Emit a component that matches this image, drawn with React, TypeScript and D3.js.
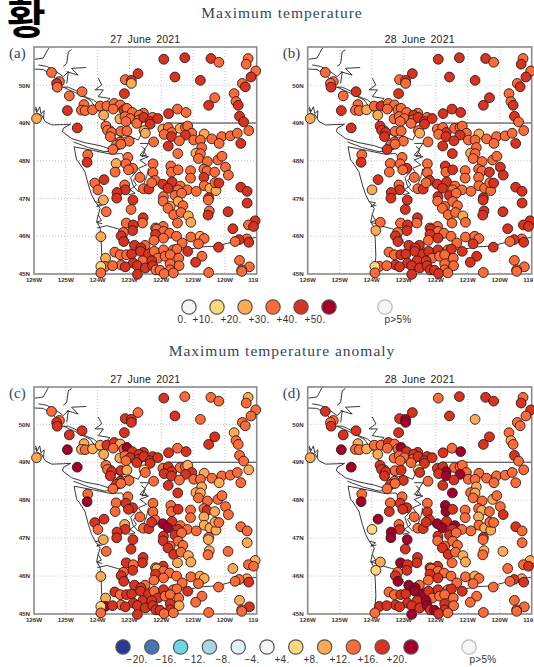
import React from "react";
import * as d3 from "d3";

// Station positions as [degrees west, degrees north]; grouped by tens to line up with the class lists
const stations: [number, number][] = [
  [121.92,50.69],[121.26,50.73],[120.44,50.71],[120.19,50.61],[119.27,50.71],[119.33,50.56],[119.03,50.38],[119.18,50.22],[119.45,50.05],[119.36,49.96],
  [122.73,50.31],[121.57,50.22],[120.77,50.13],[123.13,50.15],[122.94,50.13],[122.94,50.05],[125.45,50.34],[125.20,50.10],[125.29,50.05],[125.27,49.95],
  [124.49,49.83],[123.16,49.78],[124.89,49.72],[119.71,49.78],[120.32,49.67],[119.65,49.57],[119.58,49.47],[120.51,49.47],[124.43,49.49],[124.51,49.34],
  [124.95,49.33],[124.39,49.33],[124.16,49.35],[123.92,49.45],[123.71,49.45],[123.48,49.52],[123.29,49.48],[123.51,49.37],[123.18,49.35],[123.08,49.39],
  [122.91,49.28],[122.56,49.26],[121.49,49.37],[121.22,49.28],[121.77,49.25],[123.81,49.21],[123.30,49.11],[123.14,49.17],[122.98,49.12],[123.11,49.04],
  [122.69,49.21],[122.71,49.08],[122.77,48.99],[122.55,49.15],[122.27,49.15],[122.35,49.04],[122.11,49.12],[122.35,48.97],[119.54,49.18],[119.41,49.03],
  [125.92,49.12],[124.64,48.87],[123.74,48.92],[123.69,48.81],[123.56,48.75],[123.27,48.78],[123.08,48.79],[122.54,48.80],[122.50,48.73],[121.95,48.84],
  [121.78,48.88],[121.67,48.75],[121.41,48.86],[121.24,48.88],[121.17,48.92],[121.04,48.73],[121.91,48.70],[121.68,48.64],[121.24,48.68],[121.43,48.53],
  [120.98,48.55],[120.65,48.71],[120.77,48.55],[120.41,48.58],[120.10,48.64],[119.83,48.66],[119.61,48.73],[119.25,48.80],[119.50,48.46],[123.60,48.64],
  [123.29,48.50],[123.01,48.52],[122.24,48.50],[123.41,48.42],[123.27,48.44],[123.52,48.30],[121.78,48.39],[120.73,48.35],[120.18,48.46],[121.48,48.19],
  [120.91,48.20],[120.77,48.19],[120.83,48.06],[120.55,47.98],[120.22,48.02],[120.09,48.12],[124.31,48.16],[124.33,47.96],[123.05,48.09],[123.42,47.93],
  [123.11,47.92],[122.26,47.92],[122.90,47.80],[123.45,47.70],[123.03,47.76],[122.26,47.69],[122.67,47.56],[121.70,47.86],[121.68,47.70],[121.47,47.76],
  [121.08,47.74],[121.08,47.54],[120.66,47.78],[120.56,47.73],[120.32,47.70],[120.66,47.56],[119.98,47.83],[119.89,47.62],[124.09,47.41],[123.80,47.50],
  [123.99,47.23],[123.15,47.36],[123.13,47.23],[123.39,47.16],[123.40,47.01],[123.82,46.96],[122.89,46.96],[122.56,47.26],[122.39,47.25],[122.19,47.48],
  [122.30,47.42],[121.95,47.38],[121.66,47.44],[121.79,47.27],[121.40,47.33],[121.47,47.23],[121.18,47.23],[120.90,47.19],[120.65,47.34],[120.47,47.27],
  [120.28,47.21],[120.31,47.42],[120.19,47.41],[119.50,47.30],[119.30,47.19],[119.30,46.88],[121.93,47.05],[121.94,46.93],[121.57,47.08],[121.36,47.14],
  [121.47,46.92],[121.72,46.79],[121.79,46.74],[121.32,46.81],[121.61,46.57],[121.38,46.63],[121.15,46.54],[121.07,46.37],[121.49,46.35],[120.51,47.02],
  [120.52,46.96],[120.49,46.67],[120.53,46.56],[119.90,46.65],[123.73,46.65],[122.95,46.71],[122.57,46.49],[122.59,46.35],[123.10,46.35],[122.88,46.30],
  [122.90,46.15],[123.19,46.10],[123.26,46.01],[123.18,45.86],[119.05,46.41],[119.26,46.30],[119.10,46.26],[119.75,46.20],[122.18,46.22],[121.94,46.26],
  [122.14,46.19],[121.93,46.13],[121.74,46.08],[122.18,46.05],[121.93,45.95],[121.52,46.00],[122.23,45.89],[121.07,45.98],[120.78,46.00],[120.65,45.94],
  [121.34,45.82],[120.83,45.80],[123.90,45.99],[119.31,45.93],[119.25,45.84],[119.55,45.91],[119.68,45.86],[120.20,45.71],[123.46,45.58],[123.29,45.51],
  [123.09,45.51],[122.93,45.53],[122.84,45.76],[122.51,45.76],[122.64,45.69],[122.65,45.60],[122.40,45.53],[122.22,45.60],[121.93,45.64],[122.11,45.42],
  [121.88,45.47],[121.62,45.64],[121.51,45.66],[121.72,45.51],[121.45,45.42],[121.17,45.60],[120.72,45.47],[123.75,45.42],[122.88,45.29],[122.58,45.35],
  [122.30,45.35],[120.92,45.31],[119.54,45.36],[123.26,45.24],[123.13,45.19],[123.76,45.20],[123.53,45.22],[123.90,45.20],[122.75,45.22],[122.50,45.16],
  [122.27,45.22],[121.72,45.27],[122.17,45.11],[122.04,45.10],[121.72,45.11],[121.44,45.22],[119.23,45.19],[119.47,45.11],[122.75,44.99],[123.90,45.03],
  [121.91,45.01],[121.62,45.03],[120.51,45.04],[119.47,45.07],[123.73,46.37],[123.87,46.15],
];

// Colour class of every station on each map: 1 to 5 are legend circles, "-" means no marker
const tempJune27 = [
  "4443333434","4443423343","3433334433","4333333343","3333422333","3334344444",
  "2433333222","3323333443","3233333343","3333334333","2333333432","3333333333",
  "3333343334","3344424343","3444333332","2344443333","2233332234","3344334334",
  "4344434433","3334333323","3323443433","3443444333","3333343243","4433433144",
  "4333333343","3333--",
].join("");

const tempJune28 = [
  "4443343434","4443433334","4433434433","4323433333","3344423333","4334344443",
  "2444433323","3433333444","3233333344","3333344334","2333333433","3343333434",
  "33334344-4","23444-4344","3444333333","3344444343","3333332334","4444-44334",
  "4344444433","4334433333","34-3443433","4444444443","3343344-44","4434433144",
  "4344333343","433332",
].join("");

const anomJune27 = [
  "4333233333","3434443344","4442433422","5322442335","4434422343","4444444433",
  "2533442133","4433244443","3233333234","4334334224","2233333533","4343433334",
  "3334223344","3244424343","4545343322","2233324443","3343432223","2233344443",
  "4344233234","2334333322","3322433343","4443444344","3333343244","4323454144",
  "4444424343","3333--",
].join("");

const anomJune28 = [
  "3444344333","4424554334","4443423423","5323343335","4435423333","4334444443",
  "2544434144","4533334554","3333333334","3434334235","3233233533","4344443554",
  "33323234-5","13455-5344","4545543332","2334334343","3343432234","3232-44454",
  "4345234344","3334433323","33-2443333","4453555443","3343343-44","5334444-44",
  "5445433353","433321",
].join("");

const panelClasses = [tempJune27, tempJune28, anomJune27, anomJune28];

// Coastlines, border and rivers in [degrees west, degrees north]
const coastLines: [number, number][][] = [
  [[126,50.43],[125.71,50.42],[125.44,50.27],[125.29,50.16],[125.16,49.95],[124.92,49.95],[124.61,49.83],[124.40,49.70],[124.13,49.61],[123.96,49.50],[123.92,49.35],[123.82,49.21],[123.77,48.99],[123.51,48.90],[123.38,48.68],[123.19,48.62],[122.98,48.64],[122.72,48.55],[122.62,48.72],[122.45,48.80]],
  [[125.97,49.39],[125.90,49.26],[125.76,49.21],[125.65,49.04],[125.44,48.95],[125.08,48.96],[124.85,48.97],[125.08,48.86],[125.10,48.77],[124.82,48.59],[124.40,48.48],[123.92,48.40],[123.56,48.30],[123.38,48.37],[123.40,48.55],[123.51,48.68],[123.71,48.95],[123.92,49.26],[124.24,49.61],[124.66,49.79],[125.08,49.95]],
  [[125.95,49.43],[125.90,49.30],[125.82,49.43],[125.78,49.25],[125.68,49.33],[125.70,49.12]],
  [[124.76,48.50],[124.29,48.35],[123.77,48.24],[123.40,48.28],[123.21,48.35]],
  [[124.74,48.37],[124.13,48.27],[123.61,48.18],[123.24,48.19],[123.14,48.06]],
  [[124.74,48.37],[124.66,48.02],[124.61,47.98],[124.40,47.71],[124.29,47.36],[124.19,47.10],[124.08,46.92],[123.92,46.74],[123.98,46.57],[124.03,46.39],[123.92,46.22],[123.89,45.91],[123.87,45.47],[123.92,44.98]],
  [[124.08,46.92],[123.88,46.88],[124.03,46.79],[123.85,46.82]],
  [[123.98,46.57],[123.88,46.42],[124.03,46.37],[123.85,46.33]],
  [[124.01,46.22],[123.71,46.28],[123.38,46.20],[123.14,46.15],[123.07,45.95],[122.96,45.78],[122.67,45.72],[122.19,45.67],[121.72,45.67],[121.20,45.65],[120.68,45.72],[120.26,45.74],[119.84,45.83],[119.42,45.91],[119.00,45.97]],
  [[121.80,49],[119,49]],
  [[122.67,48.46],[122.40,48.46],[122.54,48.28],[122.67,48.15],[122.40,48.11],[122.67,48.02],[122.46,47.89],[122.72,47.80],[122.61,47.67],[122.88,47.49],[122.78,47.36],[122.98,47.23],[122.82,47.14],[123.03,47.10]],
  [[122.40,47.80],[122.46,47.58],[122.56,47.36],[122.72,47.18],[122.88,47.33],[122.96,47.55],[122.80,47.70],[122.90,47.85]],
  [[122.56,48.24],[122.46,48.15],[122.61,48.11],[122.50,48.30],[122.62,48.38]],
  [[125.97,50.69],[125.71,50.72],[125.57,50.94],[125.52,51]],
  [[125.86,50.54],[125.60,50.50],[125.34,50.39],[125.08,50.23],[124.92,50.36],[124.97,50.05]],
  [[125.08,50.50],[124.97,50.58],[124.92,50.89],[124.82,50.94]],
  [[124.97,50.36],[124.61,50.27],[124.82,50.45],[124.36,50.47]],
  [[123.98,50.19],[123.87,50.01],[124.08,49.88],[123.82,49.88],[123.98,49.70],[123.61,49.65],[123.71,49.57]],
];

const classColors = ["#f6f6f6", "#fed97c", "#fdaa55", "#fc6b38", "#d9321f", "#a5002a"];
const anomalyColors = ["#2b3a97", "#4575b4", "#6bd8e6", "#a6d6e8", "#e0f3f8"];

const lonTicks = ["126W", "125W", "124W", "123W", "122W", "121W", "120W", "119"];
const lonGrid = [126, 125, 124, 123, 122, 121, 120, 119];
const latGrid = [50, 49, 48, 47, 46, 45];

const panels = [
  { label: "(a)", date: "27 June 2021", left: 34, right: 256.7, y50: 85.3, y45: 274, top: 47 },
  { label: "(b)", date: "28 June 2021", left: 307.7, right: 531.7, y50: 85.3, y45: 274, top: 47 },
  { label: "(c)", date: "27 June 2021", left: 34, right: 256.7, y50: 424.3, y45: 614, top: 387 },
  { label: "(d)", date: "28 June 2021", left: 307.7, right: 531.7, y50: 424.3, y45: 614, top: 387 },
];

const tempLegendLabels = ["0.", "+10.", "+20.", "+30.", "+40.", "+50."];
const anomLegendLabels = ["−20.", "−16.", "−12.", "−8.", "−4.", "+4.", "+8.", "+12.", "+16.", "+20."];
const serif = "'Liberation Serif', serif";
const sans = "'Liberation Sans', sans-serif";
const inkSlate = "#34465a";

function MapPanel({ panel, classes }: { panel: (typeof panels)[number]; classes: string }) {
  const x = d3.scaleLinear().domain([126, 119]).range([panel.left, panel.right]);
  const y = d3.scaleLinear().domain([45, 50]).range([panel.y45, panel.y50]);
  const line = d3.line<[number, number]>().x((d) => x(d[0])).y((d) => y(d[1]));
  return (
    <g>
      {lonGrid.slice(1, -1).map((d) => (
        <line key={d} x1={x(d)} x2={x(d)} y1={panel.top} y2={panel.y45} stroke="#b5b5b5" strokeWidth={0.8} strokeDasharray="1 2" />
      ))}
      {latGrid.slice(0, -1).map((d) => (
        <line key={d} x1={panel.left} x2={panel.right} y1={y(d)} y2={y(d)} stroke="#b5b5b5" strokeWidth={0.8} strokeDasharray="1 2" />
      ))}
      {coastLines.map((c, i) => (
        <path key={i} d={line(c) ?? ""} fill="none" stroke="#222" strokeWidth={0.9} />
      ))}
      <rect x={panel.left} y={panel.top} width={panel.right - panel.left} height={panel.y45 - panel.top} fill="none" stroke="#8a8a8a" strokeWidth={1.6} />
      {latGrid.map((d) => (
        <text key={d} x={panel.left - 4} y={y(d) + 2.2} textAnchor="end" fontFamily={sans} fontWeight={700} fontSize={6.2} fill="#333">{d}N</text>
      ))}
      {lonGrid.map((d, i) => (
        <text key={d} x={x(d) - (d === 119 ? 3.5 : 0)} y={panel.y45 + 8} textAnchor="middle" fontFamily={sans} fontWeight={700} fontSize={6.2} fill="#333">{lonTicks[i]}</text>
      ))}
      {stations.map((s, i) => {
        const c = classes[i];
        if (!c || c === "-") return null;
        return <circle key={i} cx={x(s[0])} cy={y(s[1])} r={4.9} fill={classColors[+c]} stroke="#2a1a18" strokeWidth={0.9} />;
      })}
      <text x={(panel.left + panel.right) / 2} y={panel.top - 4} textAnchor="middle" fontFamily={sans} fontSize={10.5} wordSpacing={2} letterSpacing={0.2} fill="#222">{panel.date}</text>
      <text x={panel.left - 25} y={panel.top + 11} fontFamily={serif} fontSize={15} fill={inkSlate}>{panel.label}</text>
    </g>
  );
}

function Legend() {
  const r = 7.2;
  const tempX = d3.scaleLinear().domain([0, 5]).range([189, 329]);
  const tempLabelX = [182, 203, 231, 259, 287, 315];
  const anomColors = [...anomalyColors, classColors[0], ...classColors.slice(1)];
  const anomX = d3.scaleLinear().domain([0, 10]).range([123, 411]);
  const anomLabelX = [137, 166, 195, 223, 252, 282, 311, 340, 368, 397];
  return (
    <g fontFamily={sans} fontSize={10} fill="#333" textAnchor="middle" letterSpacing={0.3}>
      {classColors.map((c, i) => (
        <circle key={i} cx={tempX(i)} cy={307} r={r} fill={c} stroke="#555" strokeWidth={1.2} />
      ))}
      {tempLegendLabels.map((t, i) => <text key={t} x={tempLabelX[i]} y={323}>{t}</text>)}
      <circle cx={385} cy={307} r={r} fill="#f6f6f6" stroke="#bbb" strokeWidth={1.2} />
      <text x={398} y={323}>p&gt;5%</text>
      {anomColors.map((c, i) => (
        <circle key={i} cx={anomX(i)} cy={647} r={r} fill={c} stroke="#555" strokeWidth={1.2} />
      ))}
      {anomLegendLabels.map((t, i) => <text key={t} x={anomLabelX[i]} y={663}>{t}</text>)}
      <circle cx={469} cy={647} r={r} fill="#f6f6f6" stroke="#bbb" strokeWidth={1.2} />
      <text x={483} y={663}>p&gt;5%</text>
    </g>
  );
}

export default function App() {
  return (
    <svg width={534} height={667} style={{ position: "absolute", left: 0, top: 0, background: "#fff" }}>
      <text x={7} y={34} fontFamily="'Noto Sans CJK KR'" fontWeight={700} fontSize={42} fill="#000">황</text>
      <text x={282} y={18} textAnchor="middle" fontFamily={serif} fontSize={15.5} letterSpacing={1} fill={inkSlate}>Maximum temperature</text>
      <text x={282} y={356} textAnchor="middle" fontFamily={serif} fontSize={15.5} letterSpacing={1} fill={inkSlate}>Maximum temperature anomaly</text>
      {panels.map((p, i) => <MapPanel key={p.label} panel={p} classes={panelClasses[i]} />)}
      <Legend />
    </svg>
  );
}
